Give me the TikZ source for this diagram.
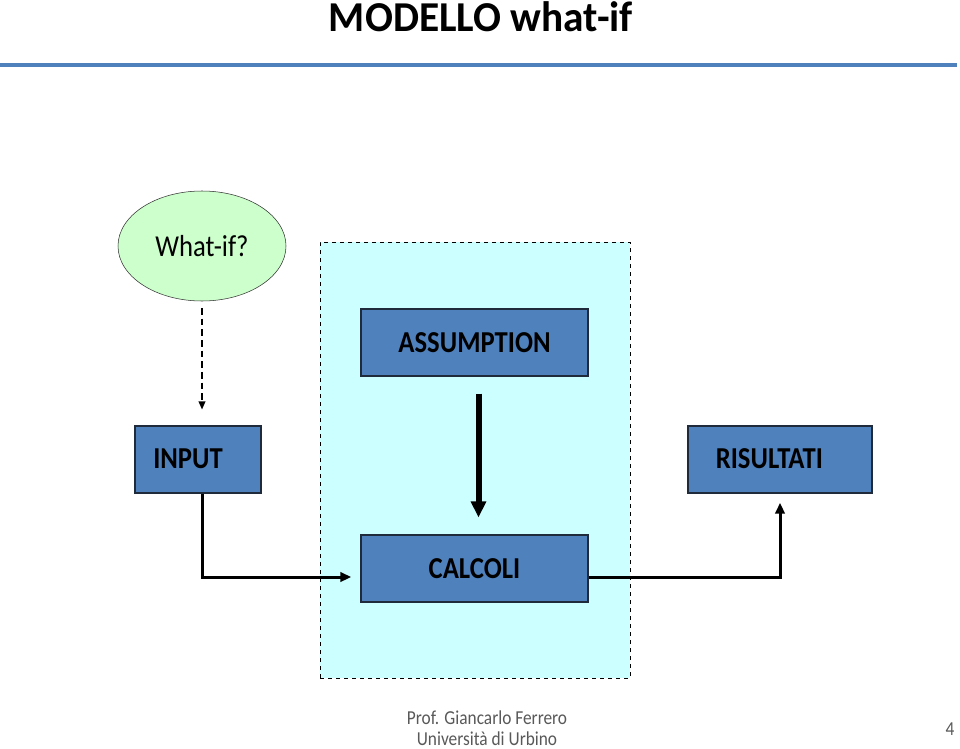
\documentclass[tikz,border=0pt]{standalone}
\usepackage{fontspec}
\setmainfont{Carlito}
\usepackage{graphicx}
\usepackage{tikz}
\usetikzlibrary{shapes.geometric, arrows.meta, positioning, calc}
\usepackage{xcolor}
\definecolor{slideblue}{HTML}{4F81BD}
\definecolor{boxborder}{HTML}{1F2A3A}
\definecolor{zonecyan}{HTML}{CCFFFF}
\definecolor{ovalgreen}{HTML}{CCFFCC}
\definecolor{footgray}{HTML}{595959}
\newcommand{\tallt}[1]{\scalebox{1}[1.14]{#1}}

\begin{document}
\begin{tikzpicture}[
    x=0.75pt, y=-0.75pt,
    box/.style = {rectangle, draw=boxborder, thick, fill=slideblue, minimum height=50.25pt, inner sep=0pt, align=center, font=\fontsize{20}{24}\selectfont\bfseries},
    zone/.style = {rectangle, draw=black, dashed, thin, fill=zonecyan, minimum width=232.5pt, minimum height=327pt, inner sep=0pt},
    oval/.style = {ellipse, draw=black!80, fill=ovalgreen, minimum width=126pt, minimum height=82.5pt, inner sep=0pt, font=\fontsize{20}{24}\selectfont},
    flow/.style = {-{Triangle[length=8pt, width=7pt]}, line width=2.25pt}
]
    \useasboundingbox (0,0) rectangle (960,749);

    % 1. Title
    \node [anchor=base, inner sep=0pt, font=\fontsize{31}{36}\selectfont\bfseries] (title) at (481,32) {\scalebox{1}[1.03]{MODELLO what-if}};
    \draw [slideblue, line width=3pt] (0,65) -- (957,65);

    % 2. Dashed zone and its boxes
    \node [zone] (calc_zone) at (475,460) {};
    \node [box, minimum width=170.25pt] (assumption) at (474.5,342.5) {\tallt{ASSUMPTION}};
    \node [box, minimum width=170.25pt] (calcoli) at (474.5,568.5) {\raisebox{-3pt}{\tallt{CALCOLI}}};

    % 3. Outer boxes
    \node [oval] (whatif) at (202,246) {\tallt{What-if?}};
    \node [box, minimum width=94.5pt] (input) at (198,459.5) {\raisebox{2pt}{\tallt{\kern-15pt INPUT}}};
    \node [box, minimum width=138pt] (risultati) at (780,459.5) {\raisebox{2pt}{\tallt{\kern-16pt RISULTATI}}};

    % 4. Connections
    \draw [-{Triangle[length=6pt, width=5pt]}, dash pattern=on 5pt off 3pt, line width=1pt, shorten <=5pt, shorten >=12pt] (whatif.south) -- (whatif.south |- input.north);
    \draw [-{Triangle[length=12pt, width=11pt]}, line width=4.5pt, shorten <=12.75pt, shorten >=12.75pt] ($(assumption.south)+(4,0)$) -- ($(calcoli.north)+(4,0)$);
    \draw [flow, shorten >=7pt] ($(input.south)+(4,0)$) |- ($(calcoli.west)+(0,8.5)$);
    \draw [flow, shorten >=7pt] ($(calcoli.east)+(0,8.5)$) -| (risultati.south);

    % 5. Footer
    \node [font=\fontsize{13}{15.5}\selectfont, text=footgray, align=center] (author) at (487,728) {\tallt{Prof. Giancarlo Ferrero}\\\tallt{Università di Urbino}};
    \node [font=\fontsize{13}{16}\selectfont, text=footgray] (pagenum) at (950,729) {\tallt{4}};
\end{tikzpicture}
\end{document}
